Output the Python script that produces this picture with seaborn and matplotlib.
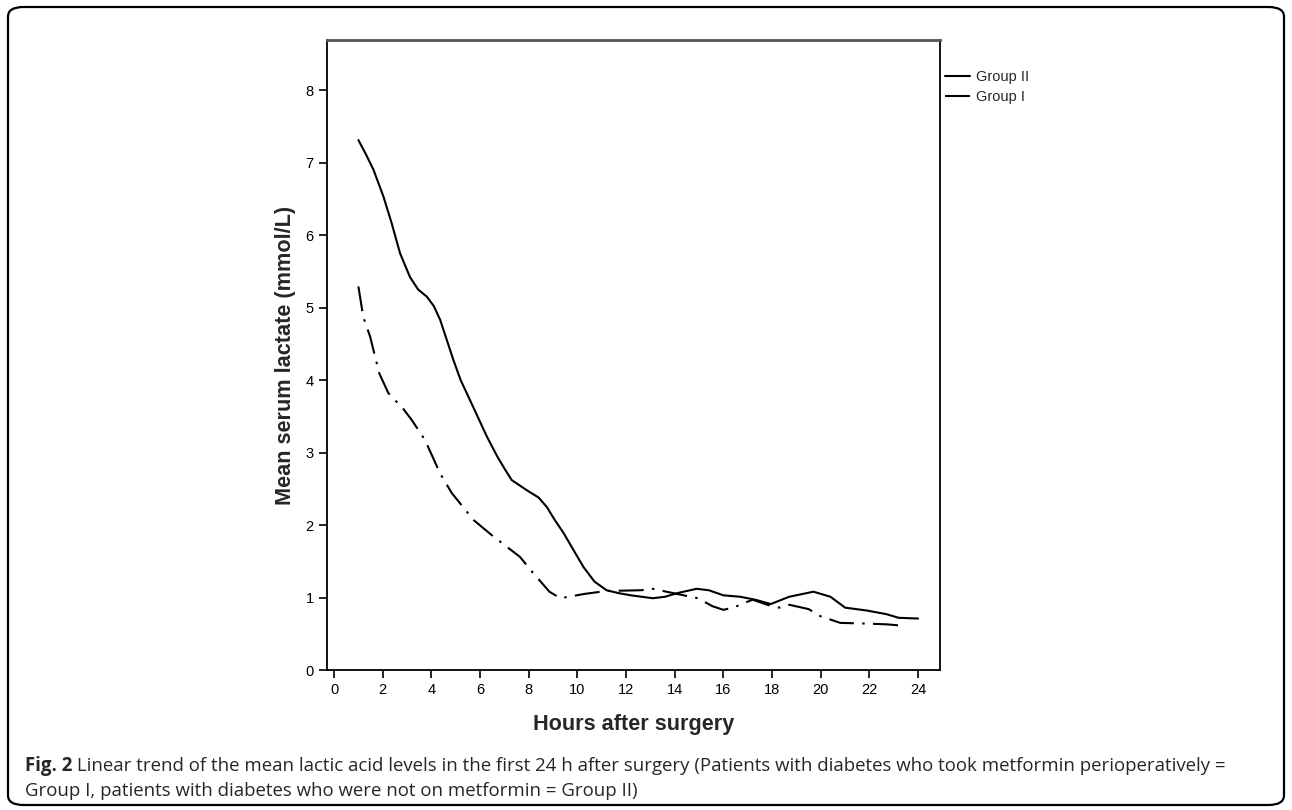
import pandas as pd
import matplotlib.pyplot as plt
import seaborn as sns
from matplotlib.patches import FancyBboxPatch

# ===============================
# DATA
# ===============================
hours_g2 = [1.0, 1.3, 1.62, 2.03, 2.37, 2.71, 3.12, 3.45, 3.81, 4.1, 4.36, 4.9, 5.2,
            5.59, 6.28, 6.7, 7.0, 7.3, 7.92, 8.4, 8.74, 9.05, 9.43, 9.9, 10.25, 10.7,
            11.2, 11.7, 12.2, 13.1, 13.6, 14.1, 14.9, 15.4, 16.0, 16.7, 17.3, 17.95,
            18.7, 19.7, 20.4, 21.0, 21.9, 22.7, 23.2, 24.0]
lactate_g2 = [7.31, 7.12, 6.90, 6.53, 6.16, 5.75, 5.42, 5.25, 5.15, 5.02, 4.83, 4.28, 4.00,
              3.72, 3.22, 2.95, 2.78, 2.62, 2.48, 2.38, 2.25, 2.08, 1.89, 1.62, 1.42, 1.22,
              1.10, 1.06, 1.03, 0.99, 1.01, 1.06, 1.12, 1.10, 1.03, 1.01, 0.97, 0.91,
              1.01, 1.08, 1.01, 0.86, 0.82, 0.77, 0.72, 0.71]

hours_g1 = [1.0, 1.2, 1.48, 1.86, 2.23, 2.85, 3.19, 3.74, 4.36, 4.84, 5.73, 6.48, 7.64,
            8.2, 8.85, 9.3, 10.3, 11.2, 12.6, 13.1, 13.8, 14.95, 15.55, 16.0, 16.4,
            17.2, 17.8, 18.3, 18.7, 19.5, 20.0, 20.8, 21.9, 22.7, 23.4]
lactate_g1 = [5.29, 4.87, 4.60, 4.09, 3.82, 3.60, 3.45, 3.17, 2.71, 2.44, 2.07, 1.86, 1.56,
              1.33, 1.08, 0.99, 1.05, 1.09, 1.10, 1.12, 1.07, 0.99, 0.88, 0.83, 0.86,
              0.97, 0.90, 0.86, 0.90, 0.84, 0.74, 0.65, 0.64, 0.63, 0.61]

groups = ["Group II", "Group I"]
x_ticks = list(range(0, 25, 2))
y_ticks = list(range(0, 9))

caption_bold = "Fig. 2"
caption_line1 = (" Linear trend of the mean lactic acid levels in the first 24 h after surgery "
                 "(Patients with diabetes who took metformin perioperatively =")
caption_line2 = "Group I, patients with diabetes who were not on metformin = Group II)"

df = pd.concat([
    pd.DataFrame({"hour": hours_g2, "lactate": lactate_g2, "group": "Group II"}),
    pd.DataFrame({"hour": hours_g1, "lactate": lactate_g1, "group": "Group I"}),
])

# ===============================
# PLOT
# ===============================
sns.set_style("white")
plt.rcParams["font.family"] = ["Liberation Sans", "DejaVu Sans"]

fig = plt.figure(figsize=(12.92, 8.10), dpi=100)
ax = fig.add_axes([327 / 1292, 1 - 670 / 810, 613 / 1292, 630 / 810])

sns.lineplot(data=df, x="hour", y="lactate", hue="group", style="group",
             hue_order=groups, style_order=groups,
             palette={"Group II": "black", "Group I": "black"},
             dashes={"Group II": "", "Group I": (12, 4, 1.2, 4)},
             estimator=None, sort=True, linewidth=1.5, ax=ax)
for line in ax.get_lines():
    line.set_solid_joinstyle("round")
    line.set_dash_joinstyle("round")

ax.set_xlim(-0.29, 24.9)
ax.set_ylim(0, 8.69)
ax.set_xticks(x_ticks)
ax.set_yticks(y_ticks)
ax.tick_params(axis="both", direction="out", length=6, width=1.2, colors="black",
               labelsize=10.5, left=True, bottom=True)
ax.tick_params(axis="x", pad=3)
for side in ["left", "right", "bottom"]:
    ax.spines[side].set_color("black")
    ax.spines[side].set_linewidth(1.3)
ax.spines["top"].set_color("#555555")
ax.spines["top"].set_linewidth(2.0)

ax.set_xlabel("Hours after surgery", fontsize=15.6, fontweight="bold")
ax.set_ylabel("Mean serum lactate (mmol/L)", fontsize=15.6, fontweight="bold")
ax.xaxis.set_label_coords(0.5, -0.087)
ax.yaxis.set_label_coords(-0.0685, 0.5)
ax.xaxis.label.set_verticalalignment("center")
ax.yaxis.label.set_verticalalignment("center")

leg = ax.legend(loc="upper left", bbox_to_anchor=(1.008, 0.953), frameon=False,
                fontsize=10.5, handlelength=1.7, handletextpad=0.45,
                labelspacing=0.45, borderaxespad=0, borderpad=0)
for line in leg.get_lines():
    line.set_linewidth(1.5)

# caption
renderer = fig.canvas.get_renderer()
t = fig.text(25 / 1292, 1 - 766 / 810, caption_bold, fontsize=13.4, fontweight="bold",
             family="Open Sans", va="center", ha="left")
bb = t.get_window_extent(renderer)
fig.text(bb.x1 / fig.bbox.width, 1 - 766 / 810, caption_line1, fontsize=13.4,
         family="Open Sans", va="center", ha="left")
fig.text(25 / 1292, 1 - 791 / 810, caption_line2, fontsize=13.4,
         family="Open Sans", va="center", ha="left")

# rounded frame around the figure
frame = FancyBboxPatch((8 / 1292, 1 - 805 / 810), 1276 / 1292, 798 / 810,
                       boxstyle="round,pad=0,rounding_size=0.012",
                       transform=fig.transFigure, fill=False,
                       edgecolor="black", linewidth=1.6)
fig.patches.append(frame)

plt.savefig("out.png", dpi=100)
